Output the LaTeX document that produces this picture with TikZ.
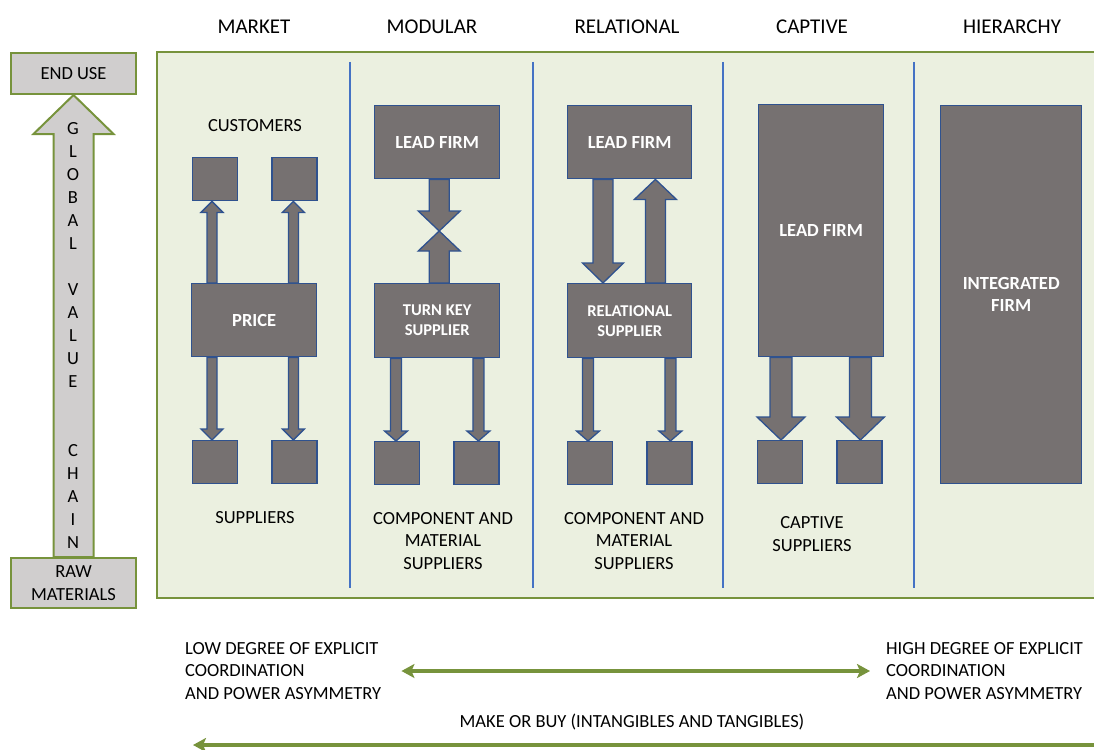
\documentclass[tikz,border=0pt]{standalone}
\usepackage{fontspec}
\setmainfont{Carlito}
\usetikzlibrary{positioning,calc,arrows.meta}

\definecolor{panelgreen}{RGB}{235,240,224}
\definecolor{linegreen}{RGB}{119,147,60}
\definecolor{firmgray}{RGB}{118,113,113}
\definecolor{firmblue}{RGB}{47,82,143}
\definecolor{divblue}{RGB}{68,114,196}
\definecolor{sidegray}{RGB}{208,206,206}

% vertical block arrow: style, from, tip, shaft half width, head half width, head length
\newcommand{\blockarrow}[6]{%
  \draw[#1] let \p1=(#2), \p2=(#3), \n1={sign(\y2-\y1)*#6} in
    ({\x1-#4},\y1) -- ({\x1-#4},{\y2-\n1*1pt}) -- ({\x1-#5},{\y2-\n1*1pt}) -- (\x1,\y2)
    -- ({\x1+#5},{\y2-\n1*1pt}) -- ({\x1+#4},{\y2-\n1*1pt}) -- ({\x1+#4},\y1) -- cycle;}

\begin{document}
\begin{tikzpicture}[x=1pt,y=-1pt,
    firmnode/.style = {draw=firmblue, fill=firmgray, line width=1.4pt, text=white,
      font=\fontsize{18.5}{22}\selectfont\bfseries, align=center, inner sep=0pt, anchor=north west},
    unitnode/.style = {firmnode, minimum width=45pt, minimum height=43pt},
    sidenode/.style = {draw=linegreen, fill=sidegray, line width=2pt, inner sep=0pt,
      font=\fontsize{18.5}{23}\selectfont, align=center, anchor=north west},
    textnode/.style = {font=\fontsize{18.5}{22.5}\selectfont, align=center, inner sep=0pt},
    headnode/.style = {font=\fontsize{21}{25}\selectfont, inner sep=0pt},
    firmarrow/.style = {draw=firmblue, fill=firmgray, line width=1.3pt, line join=miter},
    sidearrow/.style = {draw=linegreen, fill=sidegray, line width=2pt, line join=miter},
    greenline/.style = {draw=linegreen, line width=3.2pt}]
  \useasboundingbox (0,0) rectangle (1094,749);

  % panel and column dividers
  \draw[fill=panelgreen, draw=linegreen, line width=2pt] (157,52) rectangle (1110,598);
  \foreach \x in {350,533,723,914}
    \draw[divblue, line width=1.4pt] (\x,62) -- (\x,588);

  \node[headnode] (market) at (254,27) {MARKET};
  \node[headnode] (modular) at (432,27) {MODULAR};
  \node[headnode] (relational) at (627,27) {RELATIONAL};
  \node[headnode] (captive) at (812,27) {CAPTIVE};
  \node[headnode] (hierarchy) at (1012,27) {HIERARCHY};

  % global value chain
  \node[sidenode, minimum width=125pt, minimum height=41pt] (enduse) at (10,52) {END USE};
  \node[sidenode, minimum width=125pt, minimum height=50pt] (raw) at (10,557) {RAW\\MATERIALS};
  \blockarrow{sidearrow}{raw.north}{enduse.south}{20}{40}{39}
  \node[textnode, anchor=north, font=\fontsize{18.5}{23}\selectfont] (gvc) at (73,122)
    {G\\L\\O\\B\\A\\L\\[23pt]V\\A\\L\\U\\E\\[46pt]C\\H\\A\\I\\N};

  % market
  \node[textnode] (customers) at (255,126) {CUSTOMERS};
  \node[unitnode] (cust1) at (192,157) {};
  \node[unitnode, right=33pt of cust1] (cust2) {};
  \node[firmnode, minimum width=125pt, minimum height=73pt] (price) at (191,283) {PRICE};
  \node[unitnode] (sup1) at (192,440) {};
  \node[unitnode, right=33pt of sup1] (sup2) {};
  \node[textnode] (suppliers) at (255,518) {SUPPLIERS};
  \blockarrow{firmarrow}{$(price.north west)+(21,0)$}{cust1.south}{5}{11}{11}
  \blockarrow{firmarrow}{$(price.north east)+(-24,0)$}{cust2.south}{5}{11}{11}
  \blockarrow{firmarrow}{$(price.south west)+(21,0)$}{sup1.north}{5}{11}{11}
  \blockarrow{firmarrow}{$(price.south east)+(-24,0)$}{sup2.north}{5}{11}{11}

  % modular
  \node[firmnode, minimum width=125pt, minimum height=73pt] (leadmod) at (374,105) {LEAD FIRM};
  \node[firmnode, minimum width=125pt, minimum height=74pt,
    font=\fontsize{16.5}{20}\selectfont\bfseries] (turnkey) at (374,283) {TURN KEY\\SUPPLIER};
  \coordinate (meet) at (438.5,231);
  \blockarrow{firmarrow}{$(leadmod.south)+(2,0)$}{meet}{10}{21}{20}
  \blockarrow{firmarrow}{$(turnkey.north)+(2,0)$}{meet}{10}{21}{20}
  \node[unitnode] (modsup1) at (374,441) {};
  \node[unitnode, right=33pt of modsup1] (modsup2) {};
  \blockarrow{firmarrow}{$(turnkey.south west)+(22,0)$}{modsup1.north}{5.5}{11.5}{10}
  \blockarrow{firmarrow}{$(turnkey.south east)+(-22,0)$}{modsup2.north}{5.5}{11.5}{10}
  \node[textnode] (modtext) at (443,541) {COMPONENT AND\\MATERIAL\\SUPPLIERS};

  % relational
  \node[firmnode, minimum width=124pt, minimum height=73pt] (leadrel) at (567,105) {LEAD FIRM};
  \node[firmnode, minimum width=124pt, minimum height=74pt,
    font=\fontsize{16.5}{20}\selectfont\bfseries] (relsup) at (567,283) {RELATIONAL\\SUPPLIER};
  \blockarrow{firmarrow}{$(leadrel.south west)+(36,0)$}{relsup.north}{10}{20.5}{20}
  \blockarrow{firmarrow}{$(relsup.north east)+(-37,0)$}{leadrel.south}{10}{21}{20}
  \node[unitnode] (relsup1) at (567,441) {};
  \node[unitnode, right=33pt of relsup1] (relsup2) {};
  \blockarrow{firmarrow}{$(relsup.south west)+(21,0)$}{relsup1.north}{5.5}{11.5}{10}
  \blockarrow{firmarrow}{$(relsup.south east)+(-22,0)$}{relsup2.north}{5.5}{11.5}{10}
  \node[textnode] (reltext) at (634,541) {COMPONENT AND\\MATERIAL\\SUPPLIERS};

  % captive
  \node[firmnode, minimum width=125pt, minimum height=252pt] (leadcap) at (758,104) {LEAD FIRM};
  \node[unitnode] (capsup1) at (757,440) {};
  \node[unitnode, right=33pt of capsup1] (capsup2) {};
  \blockarrow{firmarrow}{$(leadcap.south west)+(23,0)$}{capsup1.north}{11}{24}{23}
  \blockarrow{firmarrow}{$(leadcap.south east)+(-24,0)$}{capsup2.north}{11}{24}{23}
  \node[textnode] (captext) at (812,534) {CAPTIVE\\SUPPLIERS};

  % hierarchy
  \node[firmnode, minimum width=141pt, minimum height=378pt] (integrated) at (940,105) {INTEGRATED\\FIRM};

  % scale of coordination
  \node[textnode, anchor=west, align=left] (low) at (185,671)
    {LOW DEGREE OF EXPLICIT\\COORDINATION\\AND POWER ASYMMETRY};
  \node[textnode, anchor=west, align=left] (high) at (886,671)
    {HIGH DEGREE OF EXPLICIT\\COORDINATION\\AND POWER ASYMMETRY};
  \draw[greenline, {Stealth[length=13pt,width=14pt,inset=3pt]}-{Stealth[length=13pt,width=14pt,inset=3pt]},
    shorten <=20pt, shorten >=16pt] (low.east) -- (high.west);
  \node[textnode] (makebuy) at (632,722) {MAKE OR BUY (INTANGIBLES AND TANGIBLES)};
  \coordinate (buyright) at (1110,745);
  \coordinate (buyleft) at (193,745);
  \draw[greenline, -{Stealth[length=13pt,width=14pt,inset=3pt]}] (buyright) -- (buyleft);
\end{tikzpicture}
\end{document}
